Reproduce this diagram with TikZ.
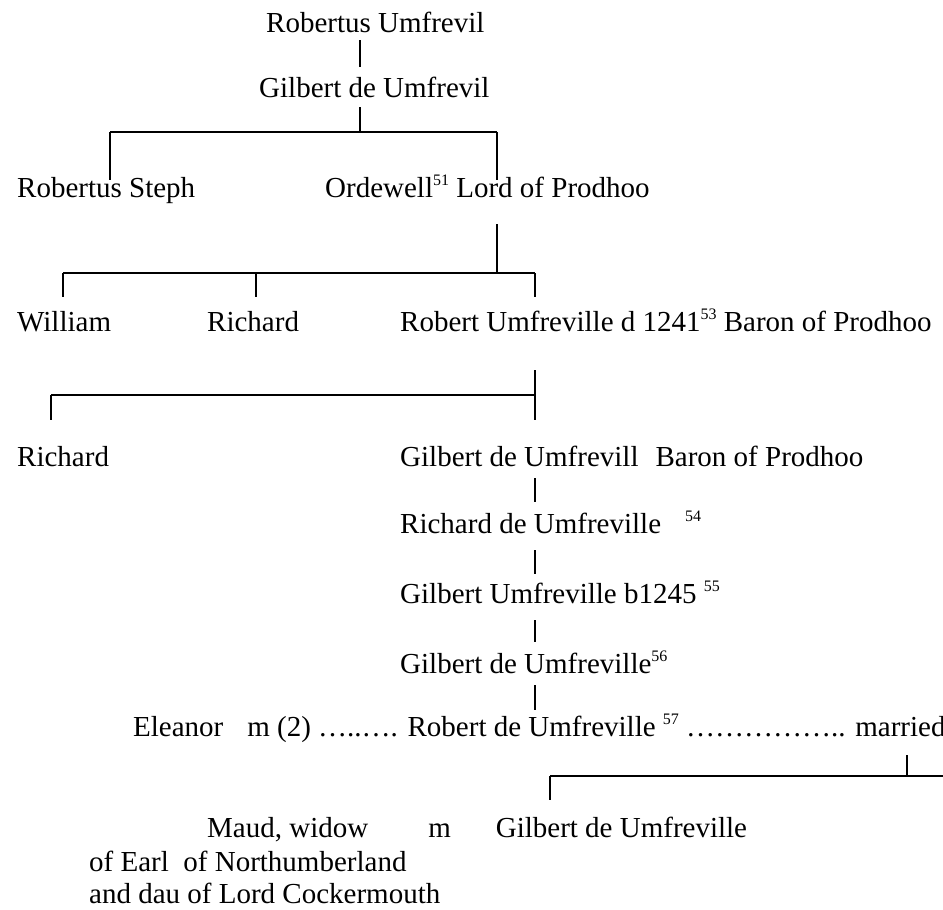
\documentclass[tikz,border=0pt]{standalone}
\usepackage{fontspec}
\setmainfont{Liberation Serif}
\newcommand\supn[1]{\raisebox{12pt}{\fontsize{16}{16}\selectfont #1}}
\begin{document}
\begin{tikzpicture}[x=1pt,y=-1pt,
  txt/.style={anchor=base west,inner sep=0pt,font=\fontsize{29}{34}\selectfont},
  vline/.style={line width=1.2pt},
  hline/.style={line width=2pt}]
\useasboundingbox (0,0) rectangle (943,910);
% texts
\node[txt] (n1) at (266,32) {Robertus Umfrevil};
\node[txt] (n2) at (259,97) {Gilbert de Umfrevil};
\node[txt] (n3) at (17,197) {Robertus Steph};
\node[txt] (n4) at (325,197) {Ordewell\supn{51} Lord of Prodhoo};
\node[txt] (n5) at (17,331) {William};
\node[txt] (n6) at (207,331) {Richard};
\node[txt] (n7) at (400,331) {Robert Umfreville d 1241\supn{53} Baron of Prodhoo};
\node[txt] (n8) at (17,466) {Richard};
\node[txt] (n9) at (400,466) {Gilbert de Umfrevill\hspace{17pt}Baron of Prodhoo};
\node[txt] (n10) at (400,533) {Richard de Umfreville\hspace{24pt}\supn{54}};
\node[txt] (n11) at (400,603) {Gilbert Umfreville b1245 \supn{55}};
\node[txt] (n12) at (400,673) {Gilbert de Umfreville\supn{56}};
\node[txt] (n13) at (133,736) {Eleanor\hspace{24pt}m (2) …..…. Robert de Umfreville \supn{57} …………….. married};
\node[txt] (n14) at (207,837) {Maud, widow\hspace{60pt}m\hspace{45pt}Gilbert de Umfreville};
\node[txt] (n15) at (89,871) {of Earl\ \ of Northumberland};
\node[txt] (n16) at (89,903) {and dau of Lord Cockermouth};
% junction coordinates
\coordinate (a1) at (360,40);  \coordinate (a2) at (360,67);
\coordinate (b1) at (360,107); \coordinate (b2) at (360,132);
\coordinate (b3) at (110,132); \coordinate (b4) at (497,132);
\coordinate (b5) at (110,180); \coordinate (b6) at (497,180);
\coordinate (c1) at (497,224); \coordinate (c2) at (497,273);
\coordinate (c3) at (63,273);  \coordinate (c4) at (535,273);
\coordinate (c5) at (256,273);
\coordinate (c6) at (63,297);  \coordinate (c7) at (256,297); \coordinate (c8) at (535,297);
\coordinate (d1) at (535,370); \coordinate (d2) at (535,395);
\coordinate (d3) at (51,395);  \coordinate (d4) at (51,420); \coordinate (d5) at (535,420);
\coordinate (e1) at (535,478); \coordinate (e2) at (535,502);
\coordinate (f1) at (535,550); \coordinate (f2) at (535,574);
\coordinate (g1) at (535,620); \coordinate (g2) at (535,642);
\coordinate (h1) at (535,685); \coordinate (h2) at (535,710);
\coordinate (k1) at (907,755); \coordinate (k2) at (907,776);
\coordinate (k3) at (550,776); \coordinate (k4) at (950,776);
\coordinate (k5) at (550,800);
% connectors
\draw[vline] (a1) -- (a2);
\draw[vline] (b1) -- (b2);
\draw[hline] (b3) -- (b4);
\draw[vline] (b3) -- (b5);
\draw[vline] (b4) -- (b6);
\draw[vline] (c1) -- (c2);
\draw[hline] (c3) -- (c4);
\draw[vline] (c3) -- (c6);
\draw[vline] (c5) -- (c7);
\draw[vline] (c4) -- (c8);
\draw[vline] (d1) -- (d5);
\draw[hline] (d3) -- (d2);
\draw[vline] (d3) -- (d4);
\draw[vline] (e1) -- (e2);
\draw[vline] (f1) -- (f2);
\draw[vline] (g1) -- (g2);
\draw[vline] (h1) -- (h2);
\draw[vline] (k1) -- (k2);
\draw[hline] (k3) -- (k4);
\draw[vline] (k3) -- (k5);
\end{tikzpicture}
\end{document}
